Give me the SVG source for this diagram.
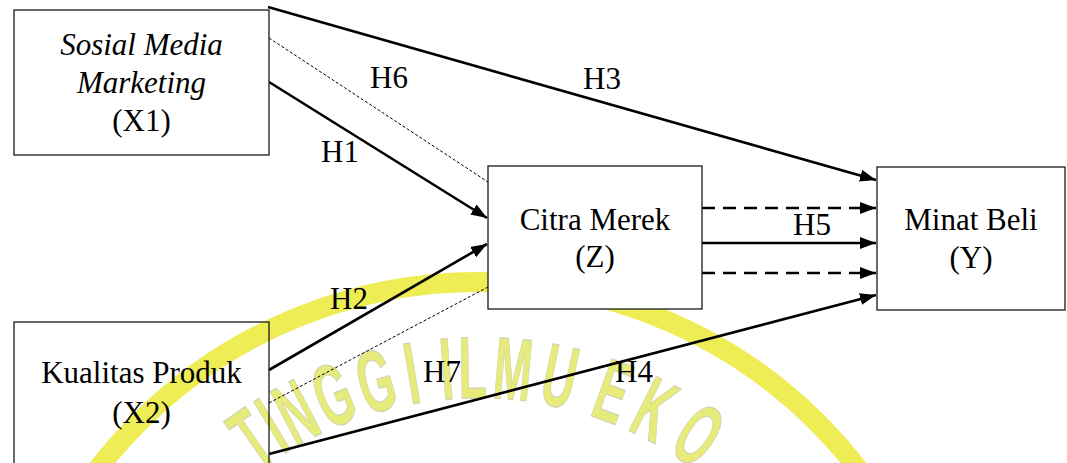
<svg xmlns="http://www.w3.org/2000/svg" width="1067" height="463" viewBox="0 0 1067 463">
  <style>
    .box { fill: #ffffff; stroke: #1a1a1a; stroke-width: 1.3; }
    .open { fill: none; stroke: #1a1a1a; stroke-width: 1.3; }
    .t { font-family: "Liberation Serif", "Times New Roman", serif; font-size: 31px; fill: #000000; }
    .c { text-anchor: middle; }
    .it { font-style: italic; }
    .solid { stroke: #000000; stroke-width: 2.6; fill: none; }
    .dash { stroke: #000000; stroke-width: 2.6; stroke-dasharray: 13 8; fill: none; }
    .dot { stroke: #000000; stroke-width: 1; stroke-dasharray: 3 2; fill: none; }
    .wm { font-family: "Liberation Sans", Arial, sans-serif; font-weight: bold; font-size: 88px;
          fill: #e6eb7a; stroke: #d3d6b0; stroke-width: 1.4; text-anchor: middle; }
  </style>
  <defs>
    <marker id="arrow" viewBox="0 0 16 12" refX="16" refY="6" markerWidth="16" markerHeight="12"
            markerUnits="userSpaceOnUse" orient="auto">
      <path d="M0,0 L16,6 L0,12 z" fill="#000000"/>
    </marker>
  </defs>

  <rect width="1067" height="463" fill="#ffffff"/>

  <!-- background seal: yellow ring with lettering -->
  <g id="watermark">
    <circle cx="478" cy="762" r="480" fill="none" stroke="#eeed55" stroke-width="20"/>
    <g class="wm">
      <text transform="rotate(-35 478 762) translate(478 398) scale(0.52 1)">T</text>
      <text transform="rotate(-31.5 478 762) translate(478 398) scale(0.52 1)">I</text>
      <text transform="rotate(-27.5 478 762) translate(478 398) scale(0.52 1)">N</text>
      <text transform="rotate(-21.5 478 762) translate(478 398) scale(0.52 1)">G</text>
      <text transform="rotate(-15 478 762) translate(478 398) scale(0.52 1)">G</text>
      <text transform="rotate(-9.7 478 762) translate(478 398) scale(0.52 1)">I</text>
      <text transform="rotate(-4.6 478 762) translate(478 398) scale(0.52 1)">I</text>
      <text transform="rotate(-0.8 478 762) translate(478 398) scale(0.52 1)">L</text>
      <text transform="rotate(5.1 478 762) translate(478 398) scale(0.52 1)">M</text>
      <text transform="rotate(12 478 762) translate(478 398) scale(0.52 1)">U</text>
      <text transform="rotate(20 478 762) translate(478 398) scale(0.52 1)">E</text>
      <text transform="rotate(26.6 478 762) translate(478 398) scale(0.52 1)">K</text>
      <text transform="rotate(34 478 762) translate(478 398) scale(0.52 1)">O</text>
    </g>
  </g>

  <!-- connectors -->
  <g id="connectors">
    <line id="h3" class="solid" x1="268" y1="7" x2="876" y2="180" marker-end="url(#arrow)"/>
    <line id="h6" class="dot" x1="269" y1="38" x2="488" y2="182"/>
    <line id="h1" class="solid" x1="269" y1="82" x2="487" y2="218" marker-end="url(#arrow)"/>
    <line id="h2" class="solid" x1="269" y1="370" x2="487" y2="244" marker-end="url(#arrow)"/>
    <line id="h7" class="dot" x1="269" y1="403" x2="488" y2="287"/>
    <line id="h4" class="solid" x1="269" y1="454" x2="876" y2="295" marker-end="url(#arrow)"/>
    <line id="h5a" class="dash" x1="702" y1="208" x2="876" y2="208" marker-end="url(#arrow)"/>
    <line id="h5" class="solid" x1="702" y1="243" x2="876" y2="243" marker-end="url(#arrow)"/>
    <line id="h5b" class="dash" x1="702" y1="273" x2="876" y2="273" marker-end="url(#arrow)"/>
    <g class="t">
      <text x="370" y="88">H6</text>
      <text x="583" y="89">H3</text>
      <text x="321" y="162">H1</text>
      <text x="793" y="235">H5</text>
      <text x="330" y="309">H2</text>
      <text x="423" y="382">H7</text>
      <text x="615" y="382">H4</text>
    </g>
  </g>

  <!-- nodes -->
  <g id="x1">
    <rect class="box" x="14" y="10" width="255" height="145"/>
    <text class="t c it" x="141.5" y="55">Sosial Media</text>
    <text class="t c it" x="141.5" y="93">Marketing</text>
    <text class="t c" x="141.5" y="131">(X1)</text>
  </g>

  <g id="x2">
    <rect class="open" x="14" y="322" width="255" height="160"/>
    <text class="t c" x="141.5" y="383">Kualitas Produk</text>
    <text class="t c" x="141.5" y="423">(X2)</text>
  </g>

  <g id="z">
    <rect class="box" x="488" y="166" width="214" height="143"/>
    <text class="t c" x="595" y="230">Citra Merek</text>
    <text class="t c" x="595" y="267">(Z)</text>
  </g>

  <g id="y">
    <rect class="box" x="877" y="167" width="188" height="143"/>
    <text class="t c" x="971" y="230">Minat Beli</text>
    <text class="t c" x="971" y="268">(Y)</text>
  </g>
</svg>
